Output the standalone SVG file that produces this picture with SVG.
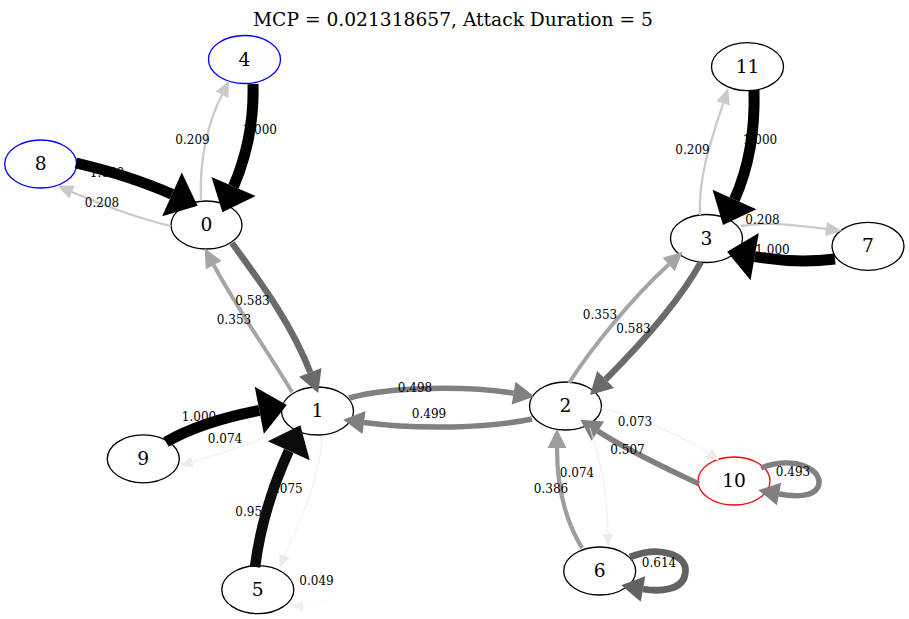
<svg xmlns="http://www.w3.org/2000/svg" width="909" height="619" viewBox="0 0 909 619">
<style>
.nd{fill:#fff;stroke:#000;stroke-width:1.33}
.nl{font-family:"DejaVu Serif",serif;font-size:18.67px;text-anchor:middle;fill:#000}
.el{font-family:"DejaVu Serif",serif;font-size:12px;text-anchor:middle;fill:#000}
.e{fill:none}
</style>
<defs>
<marker id="ak" markerUnits="userSpaceOnUse" orient="auto" refX="0" refY="0" markerWidth="60" markerHeight="60" overflow="visible"><path d="M0,-24L28,0L0,24Z" fill="#000"/></marker>
<marker id="a0c" markerUnits="userSpaceOnUse" orient="auto" refX="0" refY="0" markerWidth="60" markerHeight="60" overflow="visible"><path d="M0,-23L28,0L0,23Z" fill="#0c0c0c"/></marker>
<marker id="a6a" markerUnits="userSpaceOnUse" orient="auto" refX="0" refY="0" markerWidth="40" markerHeight="40" overflow="visible"><path d="M0,-12L22,0L0,12Z" fill="#6a6a6a"/></marker>
<marker id="a80" markerUnits="userSpaceOnUse" orient="auto" refX="0" refY="0" markerWidth="40" markerHeight="40" overflow="visible"><path d="M0,-11.5L21,0L0,11.5Z" fill="#808080"/></marker>
<marker id="a62" markerUnits="userSpaceOnUse" orient="auto" refX="0" refY="0" markerWidth="40" markerHeight="40" overflow="visible"><path d="M0,-13L22,0L0,13Z" fill="#626262"/></marker>
<marker id="aa5" markerUnits="userSpaceOnUse" orient="auto" refX="0" refY="0" markerWidth="40" markerHeight="40" overflow="visible"><path d="M0,-9L19,0L0,9Z" fill="#a5a5a5"/></marker>
<marker id="a9d" markerUnits="userSpaceOnUse" orient="auto" refX="0" refY="0" markerWidth="40" markerHeight="40" overflow="visible"><path d="M0,-9.5L19,0L0,9.5Z" fill="#9d9d9d"/></marker>
<marker id="aca" markerUnits="userSpaceOnUse" orient="auto" refX="0" refY="0" markerWidth="30" markerHeight="30" overflow="visible"><path d="M0,-7L16,0L0,7Z" fill="#cacaca"/></marker>
<marker id="aec" markerUnits="userSpaceOnUse" orient="auto" refX="0" refY="0" markerWidth="30" markerHeight="30" overflow="visible"><path d="M0,-5.5L13,0L0,5.5Z" fill="#ececec"/></marker>
<marker id="af2" markerUnits="userSpaceOnUse" orient="auto" refX="0" refY="0" markerWidth="30" markerHeight="30" overflow="visible"><path d="M0,-5L12,0L0,5Z" fill="#f2f2f2"/></marker>
</defs>
<rect width="909" height="619" fill="#fff"/>
<text x="453" y="26" style="font-family:'DejaVu Serif',serif;font-size:18.67px;text-anchor:middle">MCP = 0.021318657, Attack Duration = 5</text>

<g id="node0"><ellipse class="nd" cx="206.5" cy="225" rx="35.5" ry="24"/><text class="nl" x="206.5" y="231">0</text></g>
<g id="node1"><ellipse class="nd" cx="317.5" cy="411" rx="36" ry="24"/><text class="nl" x="317.5" y="417">1</text></g>
<g id="node2"><ellipse class="nd" cx="565.5" cy="406" rx="36" ry="24"/><text class="nl" x="565.5" y="412">2</text></g>
<g id="node3"><ellipse class="nd" cx="706.5" cy="238.5" rx="36" ry="24"/><text class="nl" x="706.5" y="244.5">3</text></g>
<g id="node4"><ellipse class="nd" cx="244.5" cy="59.5" rx="36" ry="24" style="stroke:#00f"/><text class="nl" x="244.5" y="65.5">4</text></g>
<g id="node5"><ellipse class="nd" cx="257.8" cy="589.7" rx="36" ry="24"/><text class="nl" x="257.8" y="595.7">5</text></g>
<g id="node6"><ellipse class="nd" cx="599.7" cy="571" rx="36" ry="24"/><text class="nl" x="599.7" y="577">6</text></g>
<g id="node7"><ellipse class="nd" cx="868" cy="246.3" rx="36" ry="24"/><text class="nl" x="868" y="252.3">7</text></g>
<g id="node8"><ellipse class="nd" cx="40.7" cy="164" rx="36" ry="24" style="stroke:#00f"/><text class="nl" x="40.7" y="170">8</text></g>
<g id="node9"><ellipse class="nd" cx="143.3" cy="458.8" rx="36" ry="24"/><text class="nl" x="143.3" y="464.8">9</text></g>
<g id="node10"><ellipse class="nd" cx="734" cy="481" rx="36" ry="24" style="stroke:#f00"/><text class="nl" x="734" y="487">10</text></g>
<g id="node11"><ellipse class="nd" cx="747.5" cy="66.7" rx="36" ry="24"/><text class="nl" x="747.5" y="72.7">11</text></g>

<g id="connectors">
<text class="el" x="259.8" y="134">1.000</text>
<text class="el" x="107" y="177">1.000</text>
<text class="el" x="760" y="144">1.000</text>
<text class="el" x="199" y="421">1.000</text>
<text class="el" x="252.5" y="516">0.951</text>
<text class="el" x="285.5" y="492.5">0.075</text>
<text class="el" x="577" y="477">0.074</text>
<text class="el" x="772.5" y="254">1.000</text>

<path class="e" d="M201,201 C199,160 208,122 222,94.7" stroke="#cacaca" stroke-width="2.3" marker-end="url(#aca)"/>
<path class="e" d="M253,84 C254,120 247,155 233.5,186.5" stroke="#000" stroke-width="11" marker-end="url(#ak)"/>
<path class="e" d="M76,163 C110,171 140,180 172,194.3" stroke="#000" stroke-width="11" marker-end="url(#ak)"/>
<path class="e" d="M171,226 C140,219 105,206 72,192" stroke="#cacaca" stroke-width="2.3" marker-end="url(#aca)"/>
<path class="e" d="M232,243 C255,275 290,320 310.3,372.4" stroke="#6a6a6a" stroke-width="6.4" marker-end="url(#a6a)"/>
<path class="e" d="M292,392 C270,355 238,310 213.7,265" stroke="#a5a5a5" stroke-width="3.9" marker-end="url(#aa5)"/>
<path class="e" d="M349,398 C390,386 470,386 513.6,393.2" stroke="#808080" stroke-width="5.5" marker-end="url(#a80)"/>
<path class="e" d="M532,419 C490,428 420,430 364,422.5" stroke="#808080" stroke-width="5.5" marker-end="url(#a80)"/>
<path class="e" d="M166,442 C190,428 220,418 259.3,410.4" stroke="#000" stroke-width="11" marker-end="url(#ak)"/>
<path class="e" d="M290,427 C260,440 225,453 192.6,461.9" stroke="#ececec" stroke-width="0.9" marker-end="url(#aec)"/>
<path class="e" d="M255,567 C260,528 271,490 288.8,450.8" stroke="#0c0c0c" stroke-width="10.5" marker-end="url(#a0c)"/>
<path class="e" d="M322,436 C320,480 300,520 284.5,555.8" stroke="#ececec" stroke-width="0.9" marker-end="url(#aec)"/>
<path class="e" d="M291,580 C335,566 350,606 303,606" stroke="#f2f2f2" stroke-width="0.8" marker-end="url(#af2)"/>
<path class="e" d="M569,383 C590,350 630,300 668.7,264.5" stroke="#a5a5a5" stroke-width="3.9" marker-end="url(#aa5)"/>
<path class="e" d="M701,262 C680,300 640,345 605.6,379.4" stroke="#6a6a6a" stroke-width="6.4" marker-end="url(#a6a)"/>
<path class="e" d="M700,215 C698,175 713,135 723.2,103.3" stroke="#cacaca" stroke-width="2.3" marker-end="url(#aca)"/>
<path class="e" d="M754,90 C755,125 750,165 734.5,199.5" stroke="#000" stroke-width="11" marker-end="url(#ak)"/>
<path class="e" d="M741,226 C770,221 800,226 826,229" stroke="#cacaca" stroke-width="2.3" marker-end="url(#aca)"/>
<path class="e" d="M835,259 C810,262 780,261 754.7,256.6" stroke="#000" stroke-width="11" marker-end="url(#ak)"/>
<path class="e" d="M601,408 C635,416 680,434 708.8,453.4" stroke="#ececec" stroke-width="0.9" marker-end="url(#aec)"/>
<path class="e" d="M699,484 C670,470 630,452 597.9,431.1" stroke="#808080" stroke-width="5.5" marker-end="url(#a80)"/>
<path class="e" d="M761,468 C795,455 825,470 818,487 C813,497 795,497 779,494" stroke="#808080" stroke-width="5.5" marker-end="url(#a80)"/>
<path class="e" d="M590,428 C600,460 608,495 608,534" stroke="#ececec" stroke-width="0.9" marker-end="url(#aec)"/>
<path class="e" d="M582,548 C565,520 557,485 557,448" stroke="#9d9d9d" stroke-width="4.2" marker-end="url(#a9d)"/>
<path class="e" d="M630,557 C660,545 690,555 685,575 C682,590 660,592 643,589" stroke="#626262" stroke-width="6.8" marker-end="url(#a62)"/>

<text class="el" x="192.5" y="144">0.209</text>
<text class="el" x="102" y="207">0.208</text>
<text class="el" x="252.5" y="305">0.583</text>
<text class="el" x="234" y="324">0.353</text>
<text class="el" x="415" y="392">0.498</text>
<text class="el" x="429" y="418">0.499</text>
<text class="el" x="225" y="443">0.074</text>
<text class="el" x="316.5" y="585">0.049</text>
<text class="el" x="600" y="319">0.353</text>
<text class="el" x="633.5" y="333">0.583</text>
<text class="el" x="692.5" y="154">0.209</text>
<text class="el" x="762.5" y="224">0.208</text>
<text class="el" x="635" y="426">0.073</text>
<text class="el" x="627.5" y="454">0.507</text>
<text class="el" x="793" y="476">0.493</text>
<text class="el" x="551" y="492.5">0.386</text>
<text class="el" x="659" y="566.5">0.614</text>
</g>
</svg>
